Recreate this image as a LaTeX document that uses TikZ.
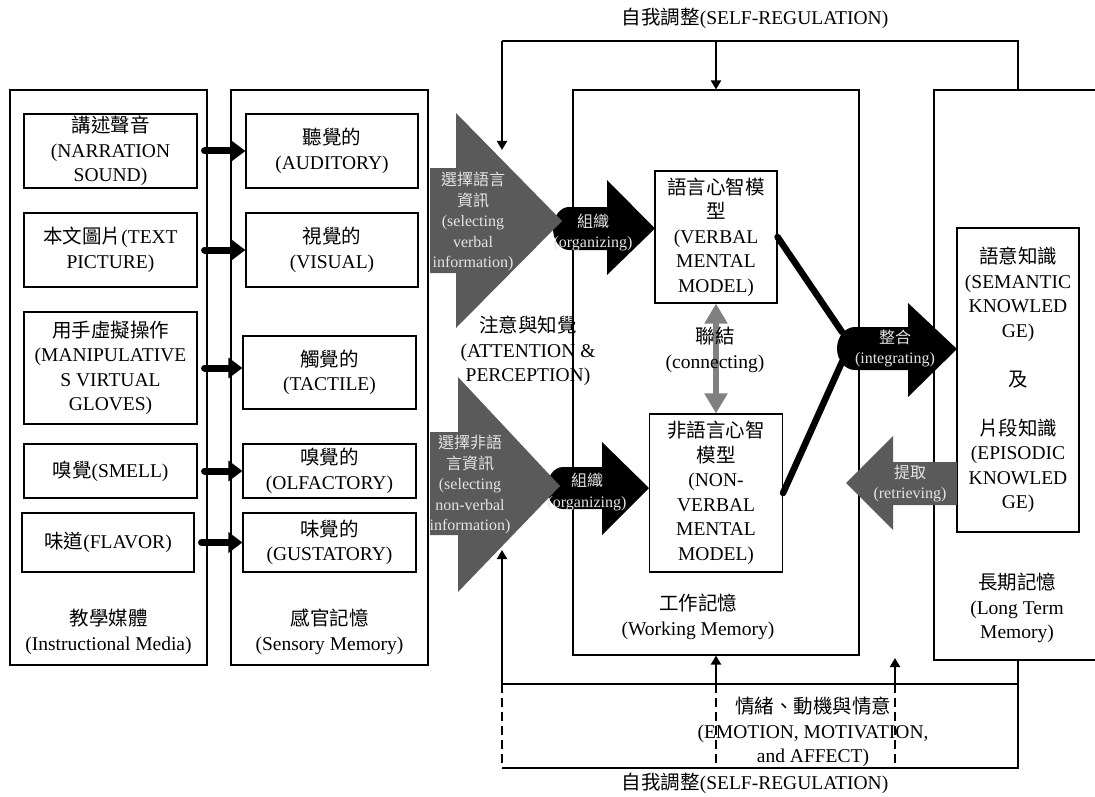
\documentclass[tikz,border=0pt]{standalone}
\usepackage{fontspec}
\setmainfont{Liberation Serif}
\newfontfamily\cjk{Noto Sans CJK TC}
\usetikzlibrary{arrows.meta,calc}
\newcommand\zh[1]{{\cjk #1}}
\newcommand\msz{\fontsize{19.5}{24.5}\selectfont}
\newcommand\ssz{\fontsize{16}{20.5}\selectfont}
\definecolor{arrgray}{RGB}{90,90,90}
\definecolor{lighttext}{RGB}{228,228,228}
\definecolor{conngray}{RGB}{128,128,128}
\begin{document}
\begin{tikzpicture}[x=1pt,y=-1pt,
  box/.style={draw, line width=1.1pt, inner sep=0pt, align=center, font=\msz},
  lbl/.style={inner sep=0pt, align=center, font=\msz},
  wlbl/.style={inner sep=0pt, align=center, font=\ssz, text=lighttext},
  fb/.style={line width=2pt},
  fbdash/.style={line width=2pt, dash pattern=on 9pt off 5pt},
  fbarrow/.style={line width=2pt, -{Triangle[length=9pt,width=10pt]}},
  sensarrow/.style={line width=7pt, line cap=round, shorten <=7pt, -{Triangle[length=14pt,width=20pt]}},
  thickline/.style={line width=6.5pt, line cap=round},
  connarrow/.style={line width=6pt, conngray, {Triangle[length=20pt,width=22pt]}-{Triangle[length=20pt,width=22pt]}},
]
\useasboundingbox (0,0) rectangle (1095,797);

% outer boxes
\node[box, minimum width=197pt, minimum height=575pt] (media) at (108.5,377.5) {};
\node[box, minimum width=197pt, minimum height=575pt] (sens) at (329.5,377.5) {};
\node[box, minimum width=286pt, minimum height=565pt] (wm) at (716,372.5) {};
\node[box, minimum width=163pt, minimum height=570pt] (ltm) at (1015.5,375) {};

% instructional media boxes
\node[box, minimum width=173pt, minimum height=74pt] (narr) at (110.5,151) {\zh{講述聲音}\\(NARRATION\\SOUND)};
\node[box, minimum width=173pt, minimum height=74pt] (pict) at (110.5,250) {\zh{本文圖片}(TEXT\\PICTURE)};
\node[box, minimum width=173pt, minimum height=112pt] (manip) at (110.5,368) {\zh{用手虛擬操作}\\(MANIPULATIVE\\S VIRTUAL\\GLOVES)};
\node[box, minimum width=173pt, minimum height=54pt] (smell) at (110.5,471) {\zh{嗅覺}(SMELL)};
\node[box, minimum width=172pt, minimum height=59pt] (flavor) at (108,542.5) {\zh{味道}(FLAVOR)};

% sensory boxes
\node[box, minimum width=172pt, minimum height=74pt] (aud) at (332,151) {\zh{聽覺的}\\(AUDITORY)};
\node[box, minimum width=172pt, minimum height=74pt] (vis) at (332,250) {\zh{視覺的}\\(VISUAL)};
\node[box, minimum width=173pt, minimum height=73pt] (tact) at (329.5,372.5) {\zh{觸覺的}\\(TACTILE)};
\node[box, minimum width=173pt, minimum height=54pt] (olf) at (329.5,471) {\zh{嗅覺的}\\(OLFACTORY)};
\node[box, minimum width=173pt, minimum height=59pt] (gust) at (329.5,542.5) {\zh{味覺的}\\(GUSTATORY)};

% working memory boxes
\node[box, minimum width=122pt, minimum height=132pt] (verb) at (716,237) {\zh{語言心智模}\\\zh{型}\\(VERBAL\\MENTAL\\MODEL)};
\node[box, minimum width=133pt, minimum height=158pt] (nonv) at (716,493) {\zh{非語言心智}\\\zh{模型}\\(NON-\\VERBAL\\MENTAL\\MODEL)};

% long term memory box
\node[box, minimum width=122pt, minimum height=304pt] (know) at (1018,380) {\zh{語意知識}\\(SEMANTIC\\KNOWLED\\GE)\\[24.5pt]\zh{及}\\[24.5pt]\zh{片段知識}\\(EPISODIC\\KNOWLED\\GE)};

% sensory arrows
\draw[sensarrow] (narr.east) -- (narr.east -| aud.west);
\draw[sensarrow] (pict.east) -- (pict.east -| vis.west);
\draw[sensarrow] (manip.east) -- (manip.east -| tact.west);
\draw[sensarrow] (smell.east) -- (smell.east -| olf.west);
\draw[sensarrow] (flavor.east) -- (flavor.east -| gust.west);

% thick lines to integrating
\coordinate (intA) at (842,332);
\coordinate (intB) at (842,362);
\draw[thickline] (verb.east) -- (intA);
\draw[thickline] (nonv.east) -- (intB);

% black arrows
\fill[black] (569,207) -- (607,207) -- (607,180) -- (655,228.5) -- (607,275) -- (607,250) -- (569,250)
  .. controls (560.2,250) and (553,240.4) .. (553,228.5) .. controls (553,216.6) and (560.2,207) .. (569,207) -- cycle;
\node[wlbl] (orgVtxt) at (593,232.5) {\zh{組織}\\(organizing)};
\fill[black] (563,467) -- (602,467) -- (602,442) -- (649,488) -- (602,535) -- (602,509) -- (563,509)
  .. controls (554.2,509) and (547,499.6) .. (547,488) .. controls (547,476.4) and (554.2,467) .. (563,467) -- cycle;
\node[wlbl] (orgNtxt) at (587,492) {\zh{組織}\\(organizing)};
\fill[black] (855,327) -- (908,327) -- (908,303) -- (957,349) -- (908,397) -- (908,370) -- (855,370)
  .. controls (845.1,370) and (837,360.4) .. (837,348.5) .. controls (837,336.6) and (845.1,327) .. (855,327) -- cycle;
\node[wlbl] (integtxt) at (895,348.5) {\zh{整合}\\(integrating)};

% gray arrows
\fill[arrgray] (430,168) -- (456,168) -- (456,113) -- (562,221) -- (456,328) -- (456,273) -- (430,273) -- cycle;
\node[wlbl] (selVtxt) at (473,221.5) {\zh{選擇語言}\\\zh{資訊}\\(selecting\\verbal\\information)};
\fill[arrgray] (430,432) -- (458,432) -- (458,377) -- (560,486) -- (458,592) -- (458,535) -- (430,535) -- cycle;
\node[wlbl] (selNtxt) at (470,484.5) {\zh{選擇非語}\\\zh{言資訊}\\(selecting\\non-verbal\\information)};
\fill[arrgray] (957,462) -- (893,462) -- (893,436) -- (846,483) -- (893,530) -- (893,505) -- (957,505) -- cycle;
\node[wlbl] (retrtxt) at (910,483.5) {\zh{提取}\\(retrieving)};

% connecting
\draw[connarrow] (verb.south) -- (nonv.north);
\node[lbl] (connlbl) at (715,350) {\zh{聯結}\\(connecting)};

% labels
\node[lbl] (medialbl) at (108.5,632) {\zh{教學媒體}\\(Instructional Media)};
\node[lbl] (senslbl) at (329.5,632) {\zh{感官記憶}\\(Sensory Memory)};
\node[lbl] (attlbl) at (528,351) {\zh{注意與知覺}\\(ATTENTION \&\\PERCEPTION)};
\node[lbl] (wmlbl) at (698,617) {\zh{工作記憶}\\(Working Memory)};
\node[lbl] (ltmlbl) at (1017,608) {\zh{長期記憶}\\(Long Term\\Memory)};
\node[lbl] (toplbl) at (755,18) {\zh{自我調整}(SELF-REGULATION)};
\node[lbl] (botlbl) at (755,783) {\zh{自我調整}(SELF-REGULATION)};
\node[lbl] (emolbl) at (813,732) {\zh{情緒、動機與情意}\\(EMOTION, MOTIVATION,\\and AFFECT)};

% top self-regulation
\coordinate (tl) at (502,41);
\coordinate (tr) at (1018,41);
\coordinate (selVtop) at (502,150);
\draw[fb] (ltm.north -| tr) -- (tr) -- (tl);
\draw[fbarrow] (tl) -- (selVtop);
\draw[fbarrow] (tl -| wm.north) -- (wm.north);

% bottom emotion / self-regulation
\coordinate (bl) at (502,684);
\coordinate (br) at (1018,684);
\coordinate (bbl) at (502,768);
\coordinate (bbr) at (1018,768);
\coordinate (selNbot) at (502,550);
\coordinate (emx) at (895,684);
\coordinate (emtip) at (895,658);
\coordinate (emb) at (895,768);
\draw[fb] (bl) -- (br) -- (br |- ltm.south);
\draw[fb] (bbl) -- (bbr) -- (br);
\draw[fbarrow] (bl) -- (selNbot);
\draw[fbarrow] (bl -| wm.south) -- (wm.south);
\draw[fbarrow] (emx) -- (emtip);
\draw[fbdash] (bl) -- (bbl);
\draw[fbdash] (bl -| wm.south) -- (bbl -| wm.south);
\draw[fbdash] (emx) -- (emb);
\end{tikzpicture}
\end{document}
